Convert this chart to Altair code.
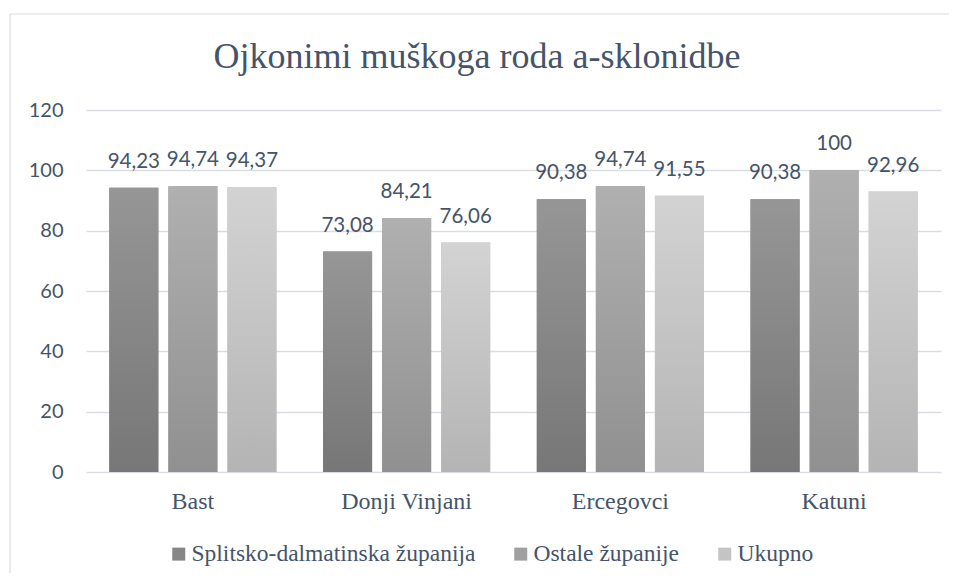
import altair as alt
import pandas as pd

categories = ["Bast", "Donji Vinjani", "Ercegovci", "Katuni"]
series = ["Splitsko-dalmatinska županija", "Ostale županije", "Ukupno"]
splitsko = [94.23, 73.08, 90.38, 90.38]
ostale = [94.74, 84.21, 94.74, 100.0]
ukupno = [94.37, 76.06, 91.55, 92.96]
y_ticks = [0, 20, 40, 60, 80, 100, 120]
title_text = "Ojkonimi muškoga roda a-sklonidbe"

values = {series[0]: splitsko, series[1]: ostale, series[2]: ukupno}
rows = []
for s in series:
    for c, v in zip(categories, values[s]):
        rows.append({"cat": c, "series": s, "value": v,
                     "label": (f"{v:.2f}".rstrip("0").rstrip(".")).replace(".", ",")})
df = pd.DataFrame(rows)

TXT = "#44546a"
GRID = "#d9dde3"
SERIF = "Liberation Serif"
W, H = 855, 362

grads = {
    series[0]: ("#969696", "#777777"),
    series[1]: ("#b0b0b0", "#909090"),
    series[2]: ("#d3d3d3", "#b4b4b4"),
}
solid = ["#878787", "#a0a0a0", "#c4c4c4"]

xscale = alt.Scale(domain=categories, paddingInner=0.218, paddingOuter=0.109)
xoff_scale = alt.Scale(domain=series, paddingInner=0.1695, paddingOuter=0)
yscale = alt.Scale(domain=[0, 120], nice=False)

base = alt.Chart(df)

x_enc = alt.X("cat:N", scale=xscale, sort=categories, title=None,
              axis=alt.Axis(labelAngle=0, labelFont=SERIF, labelFontSize=24,
                            labelColor=TXT, ticks=False, domain=False, labelPadding=17,
                            grid=False))
y_enc = alt.Y("value:Q", scale=yscale, title=None,
              axis=alt.Axis(values=y_ticks, labelFont="Lato", labelFontSize=20,
                            labelColor=TXT, ticks=False, domain=False, labelPadding=23,
                            grid=True, gridColor=GRID, gridWidth=1.5))
xo_enc = alt.XOffset("series:N", scale=xoff_scale, sort=series)

frame_df = pd.DataFrame({"f": [0]})
frame_top = alt.Chart(frame_df).mark_rule(color="#d9dde3", strokeWidth=1.2).encode(
    x=alt.value(-76), x2=alt.value(W + 80), y=alt.value(-96))
frame_left = alt.Chart(frame_df).mark_rule(color="#d9dde3", strokeWidth=1.2).encode(
    x=alt.value(-76), y=alt.value(-96), y2=alt.value(H + 160))

legend_bars = base.mark_bar().encode(
    x=x_enc, y=y_enc, xOffset=xo_enc,
    color=alt.Color("series:N", sort=series,
                    scale=alt.Scale(domain=series, range=solid),
                    legend=alt.Legend(title=None, orient="none", direction="horizontal",
                                      legendX=81, legendY=432, symbolType="square",
                                      symbolSize=169, symbolStrokeWidth=0,
                                      labelFont=SERIF, labelFontSize=23.5,
                                      labelColor=TXT, labelOffset=1, columnPadding=33,
                                      padding=0, labelLimit=400)),
)

grad_layers = []
for s in series:
    top, bot = grads[s]
    grad_layers.append(
        base.transform_filter(alt.datum.series == s).mark_bar(
            color=alt.Gradient(gradient="linear",
                               stops=[alt.GradientStop(color=top, offset=0),
                                      alt.GradientStop(color=bot, offset=1)],
                               x1=0, x2=0, y1=0, y2=1)
        ).encode(x=alt.X("cat:N", scale=xscale, sort=categories),
                 y=alt.Y("value:Q", scale=yscale), xOffset=xo_enc)
    )

labels = base.mark_text(font="Lato", fontSize=20.5, color=TXT, baseline="alphabetic",
                        align="center", dy=-20).encode(
    x=alt.X("cat:N", scale=xscale, sort=categories),
    y=alt.Y("value:Q", scale=yscale), xOffset=xo_enc, text="label:N")

title = alt.Chart(pd.DataFrame({"t": [title_text]})).mark_text(
    font=SERIF, fontSize=36, color=TXT, baseline="alphabetic", align="center"
).encode(x=alt.value(391), y=alt.value(-42), text="t:N")

chart = alt.layer(legend_bars, *grad_layers, labels, title, frame_top, frame_left).properties(
    width=W, height=H,
    autosize=alt.AutoSizeParams(type="none"),
    padding={"left": 78, "top": 102, "right": 8, "bottom": 101},
).configure_view(stroke=None).configure_legend(
    labelFont=SERIF, labelFontSize=23.5, labelColor=TXT
)

chart.save("out.html", embed_options={"renderer": "svg", "actions": False})
